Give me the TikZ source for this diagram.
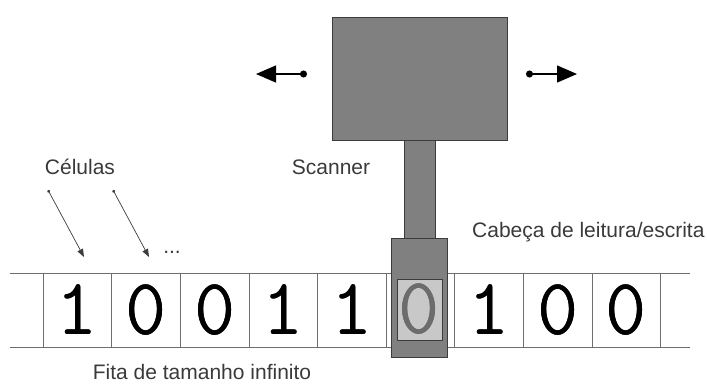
\documentclass[tikz,border=0pt]{standalone}
\usepackage{fontspec}
\setmainfont{Liberation Sans}
\usepackage[outline]{contour}
\contourlength{0.9bp}
\contournumber{24}
\usetikzlibrary{positioning,arrows,arrows.meta}

\definecolor{boxgray}{HTML}{808080}
\definecolor{edgegray}{HTML}{3C3C3C}
\definecolor{tapegray}{HTML}{6E6E6E}
\definecolor{wingray}{HTML}{C8C8C8}
\definecolor{textgray}{HTML}{3A3A3A}
\definecolor{readgray}{HTML}{6C6C6C}

% heavier tape symbols
\newcommand{\sym}[2][black]{\contour{#1}{\textcolor{#1}{#2}}}

\begin{document}
\begin{tikzpicture}[x=1bp, y=-1bp, node distance=68.6bp]
   \tikzstyle{every node} = [inner sep=0pt];
   \tikzstyle{label} = [text=textgray, font=\fontsize{21bp}{25bp}\selectfont];
   \tikzstyle{cell} = [rectangle, draw=tapegray, line width=0.9bp, minimum width=68.6bp, minimum height=74bp, font=\ttfamily\fontsize{80bp}{80bp}\selectfont];
   \tikzstyle{part} = [rectangle, draw=edgegray, fill=boxgray, line width=1bp];
   \tikzstyle{move} = [{Circle[length=7bp]}-{Triangle[length=20bp,width=17bp]}, line width=1.3bp];
   \tikzstyle{pointer} = [{Circle[length=3bp]}-{Triangle[length=8bp,width=6bp]}, line width=0.7bp, draw=edgegray];
   \useasboundingbox (0,0) rectangle (707,383);

   % the tape
   \coordinate (tnw) at (10,273);
   \coordinate (tne) at (690,273);
   \coordinate (tsw) at (10,347);
   \coordinate (tse) at (690,347);
   \draw[tapegray, line width=0.9bp] (tnw) -- (tne);
   \draw[tapegray, line width=0.9bp] (tsw) -- (tse);
   \node[cell] (c1) at (77.5,310) {\sym{1}};
   \node[cell] (c2) [right of = c1] {\sym{0}};
   \node[cell] (c3) [right of = c2] {\sym{0}};
   \node[cell] (c4) [right of = c3] {\sym{1}};
   \node[cell] (c5) [right of = c4] {\sym{1}};
   \node[cell] (c6) [right of = c5] {};
   \node[cell] (c7) [right of = c6] {\sym{1}};
   \node[cell] (c8) [right of = c7] {\sym{0}};
   \node[cell] (c9) [right of = c8] {\sym{0}};

   % scanner with its read/write head
   \node[part, minimum width=175bp, minimum height=123bp] (scanner) at (419.5,78.5) {};
   \node[part, minimum width=31bp, minimum height=98bp] (stem) at (419.5,189) {};
   \node[part, minimum width=56bp, minimum height=119bp] (head) at (419,297.5) {};
   \node[rectangle, draw=edgegray, fill=wingray, line width=1bp, minimum width=45bp, minimum height=61bp,
         font=\ttfamily\fontsize{80bp}{80bp}\selectfont] (window) at (419.5,309.5) {\sym[readgray]{0}};

   % movement
   \coordinate (ldot) at (307,74);
   \coordinate (ltip) at (256,74);
   \coordinate (rdot) at (526,74);
   \coordinate (rtip) at (577,74);
   \draw[move] (ldot) -- (ltip);
   \draw[move] (rdot) -- (rtip);

   % labels
   \node[label] (cells) at (80,167) {Células};
   \node[label] (scanlbl) at (331,167) {Scanner};
   \node[label, anchor=west] (headlbl) at (472,232) {Cabeça de leitura/escrita};
   \node[label] (tapelbl) at (202,372) {Fita de tamanho infinito};
   \node[label] (dots) at (172,252) {...};
   \coordinate (p1) at (48,190);
   \coordinate (p2) at (113,190);
   \coordinate (q1) at (84,257);
   \coordinate (q2) at (149,257);
   \draw[pointer] (p1) -- (q1);
   \draw[pointer] (p2) -- (q2);
\end{tikzpicture}
\end{document}
